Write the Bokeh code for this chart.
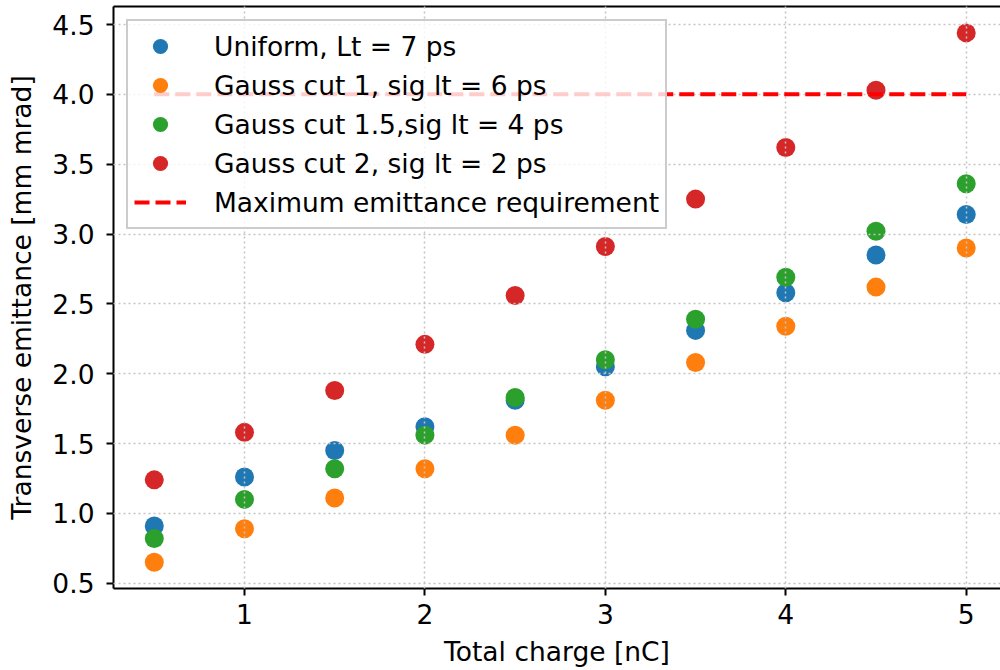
from bokeh.plotting import figure
from bokeh.models import Range1d, FixedTicker, LinearAxis, Legend, LegendItem, PrintfTickFormatter
from bokeh.embed import file_html
from bokeh.resources import INLINE

# Total bunch charge [nC]
charge = [0.5, 1.0, 1.5, 2.0, 2.5, 3.0, 3.5, 4.0, 4.5, 5.0]

# Transverse emittance [mm mrad] for each longitudinal laser profile
uniform_lt7 = [0.91, 1.26, 1.45, 1.62, 1.81, 2.05, 2.31, 2.58, 2.85, 3.14]
gauss_cut1_sig6 = [0.65, 0.89, 1.11, 1.32, 1.56, 1.81, 2.08, 2.34, 2.62, 2.90]
gauss_cut15_sig4 = [0.82, 1.10, 1.32, 1.56, 1.83, 2.10, 2.39, 2.69, 3.02, 3.36]
gauss_cut2_sig2 = [1.24, 1.58, 1.88, 2.21, 2.56, 2.91, 3.25, 3.62, 4.03, 4.44]

series_labels = [
    "Uniform, Lt = 7 ps",
    "Gauss cut 1, sig lt = 6 ps",
    "Gauss cut 1.5,sig lt = 4 ps",
    "Gauss cut 2, sig lt = 2 ps",
]
series_colors = ["#1f77b4", "#ff7f0e", "#2ca02c", "#d62728"]

# Emittance limit
limit_x = [0.5, 5.0]
limit_y = [4.0, 4.0]
limit_label = "Maximum emittance requirement"

x_ticks = [1, 2, 3, 4, 5]
y_ticks = [0.5, 1.0, 1.5, 2.0, 2.5, 3.0, 3.5, 4.0, 4.5]

FONT = "DejaVu Sans"
FS = "26.5px"

p = figure(
    width=1000, height=670,
    output_backend="svg", toolbar_location=None,
    x_range=Range1d(0.274, 5.19), y_range=Range1d(0.462, 4.629),
    min_border_left=113, min_border_right=0, min_border_top=6, min_border_bottom=82,
)
p.background_fill_color = "white"
p.border_fill_color = "white"
p.outline_line_color = None

for ax in (p.xaxis[0], p.yaxis[0]):
    ax.axis_line_width = 2
    ax.axis_line_color = "black"
    ax.major_tick_line_width = 2
    ax.major_tick_line_color = "black"
    ax.major_tick_out = 7
    ax.major_tick_in = 0
    ax.minor_tick_line_color = None
    ax.major_label_text_font = FONT
    ax.major_label_text_font_size = FS
    ax.major_label_text_color = "black"
    ax.axis_label_text_font = FONT
    ax.axis_label_text_font_size = FS
    ax.axis_label_text_font_style = "normal"
    ax.axis_label_text_color = "black"

p.xaxis.ticker = FixedTicker(ticks=x_ticks)
p.yaxis.ticker = FixedTicker(ticks=y_ticks)
p.yaxis.formatter = PrintfTickFormatter(format="%.1f")
p.xaxis.axis_label = "Total charge [nC]"
p.yaxis.axis_label = "Transverse emittance [mm mrad]"
p.xaxis.major_label_standoff = 8
p.yaxis.major_label_standoff = 12
p.xaxis.axis_label_standoff = 9
p.yaxis.axis_label_standoff = 12

# top frame line
top = LinearAxis(ticker=FixedTicker(ticks=[]), axis_line_width=2, axis_line_color="black",
                 major_tick_line_color=None, minor_tick_line_color=None,
                 major_tick_out=0, major_tick_in=0, major_label_standoff=0,
                 major_label_text_font_size="0px")
p.add_layout(top, "above")

# dotted grid drawn above the markers
for g in (p.xgrid[0], p.ygrid[0]):
    g.grid_line_color = "#c4c4c4"
    g.grid_line_width = 1.5
    g.grid_line_dash = "2 3"
    g.level = "guide"
p.xgrid.ticker = FixedTicker(ticks=x_ticks)
p.ygrid.ticker = FixedTicker(ticks=y_ticks)

items = []
for ys, lab, col in zip([uniform_lt7, gauss_cut1_sig6, gauss_cut15_sig4, gauss_cut2_sig2],
                        series_labels, series_colors):
    r = p.scatter(charge, ys, size=19, fill_color=col, line_color=col, line_width=0)
    items.append(LegendItem(label=lab, renderers=[r]))

# limit line sits above the grid, below the legend
lr = p.line(limit_x, limit_y, line_color="red", line_width=4, line_dash="15 6", level="annotation")
items.append(LegendItem(label=limit_label, renderers=[lr]))

legend = Legend(
    items=items, location="top_left", margin=13,
    label_text_font=FONT, label_text_font_size=FS, label_text_color="black",
    glyph_width=52, glyph_height=38, label_height=38, spacing=1,
    label_standoff=28, padding=6,
    border_line_color="#cccccc", border_line_width=2, border_line_alpha=1.0,
    background_fill_color="white", background_fill_alpha=0.8,
)
p.add_layout(legend, "center")

open("out.html", "w").write(file_html(p, INLINE))
